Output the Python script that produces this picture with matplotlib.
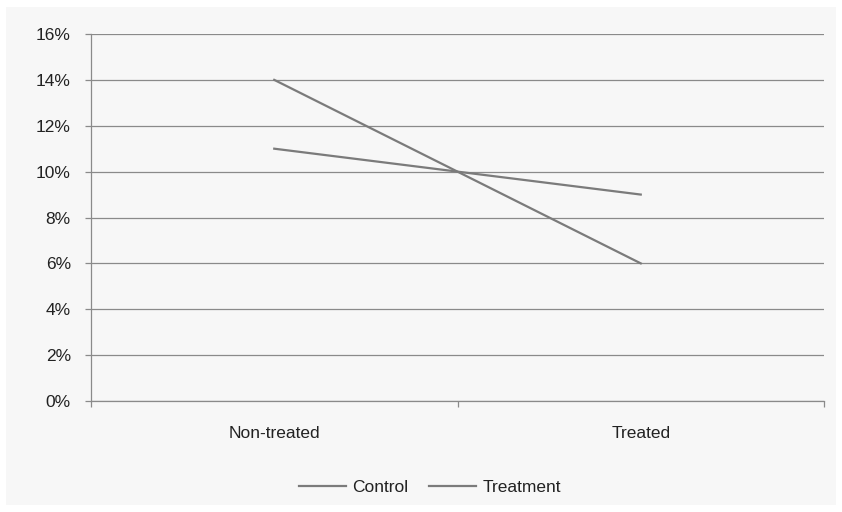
import matplotlib.pyplot as plt
from matplotlib.patches import Rectangle
from matplotlib.ticker import FuncFormatter

plt.rcParams['font.family'] = ['Liberation Sans', 'DejaVu Sans']

# values in percent
groups = ['Non-treated', 'Treated']
control = [14, 6]
treatment = [11, 9]
y_ticks = [0, 2, 4, 6, 8, 10, 12, 14, 16]

bg = '#f7f7f7'
grid_col = '#8a8a8a'
line_col = '#7b7b7b'
text_col = '#222222'

fig = plt.figure(figsize=(8.42, 5.12), dpi=100)
fig.patch.set_facecolor('white')
# grey chart area inside a thin white margin
fig.patches.append(Rectangle((6 / 842, 7 / 512), 830 / 842, 498 / 512,
                             transform=fig.transFigure, facecolor=bg,
                             edgecolor='none', zorder=-1))

ax = fig.add_axes([91 / 842, 1 - 401 / 512, 733 / 842, 367 / 512])
ax.set_facecolor(bg)

x = range(len(groups))
ax.plot(x, control, color=line_col, lw=1.6, label='Control', zorder=3)
ax.plot(x, treatment, color=line_col, lw=1.6, label='Treatment', zorder=3)

ax.set_xlim(-0.5, len(groups) - 0.5)
ax.set_ylim(0, 16)
ax.set_yticks(y_ticks)
ax.yaxis.set_major_formatter(FuncFormatter(lambda v, p: f'{v:.0f}%'))
ax.grid(axis='y', color=grid_col, lw=0.9)
ax.set_axisbelow(True)

# category boundaries get the tick marks, names sit in between
ax.set_xticks([-0.5, 0.5, 1.5])
ax.set_xticklabels([])
ax.set_xticks(list(x), minor=True)
ax.set_xticklabels(groups, minor=True)
ax.tick_params(axis='x', which='major', length=4, color=grid_col, width=0.9)
ax.tick_params(axis='x', which='minor', length=0, pad=18, labelsize=12.5,
               labelcolor=text_col)
ax.tick_params(axis='y', length=4.5, color=grid_col, width=0.9, pad=10,
               labelsize=12.5, labelcolor=text_col)

for s in ['top', 'right']:
    ax.spines[s].set_visible(False)
for s in ['left', 'bottom']:
    ax.spines[s].set_color(grid_col)
    ax.spines[s].set_linewidth(0.9)

fig.legend(loc='center', bbox_to_anchor=(430 / 842, 1 - 487 / 512), ncol=2,
           frameon=False, fontsize=12.5, handlelength=2.7, handletextpad=0.35,
           columnspacing=1.2, labelcolor=text_col)

fig.savefig('out.png', dpi=100, facecolor='white')
